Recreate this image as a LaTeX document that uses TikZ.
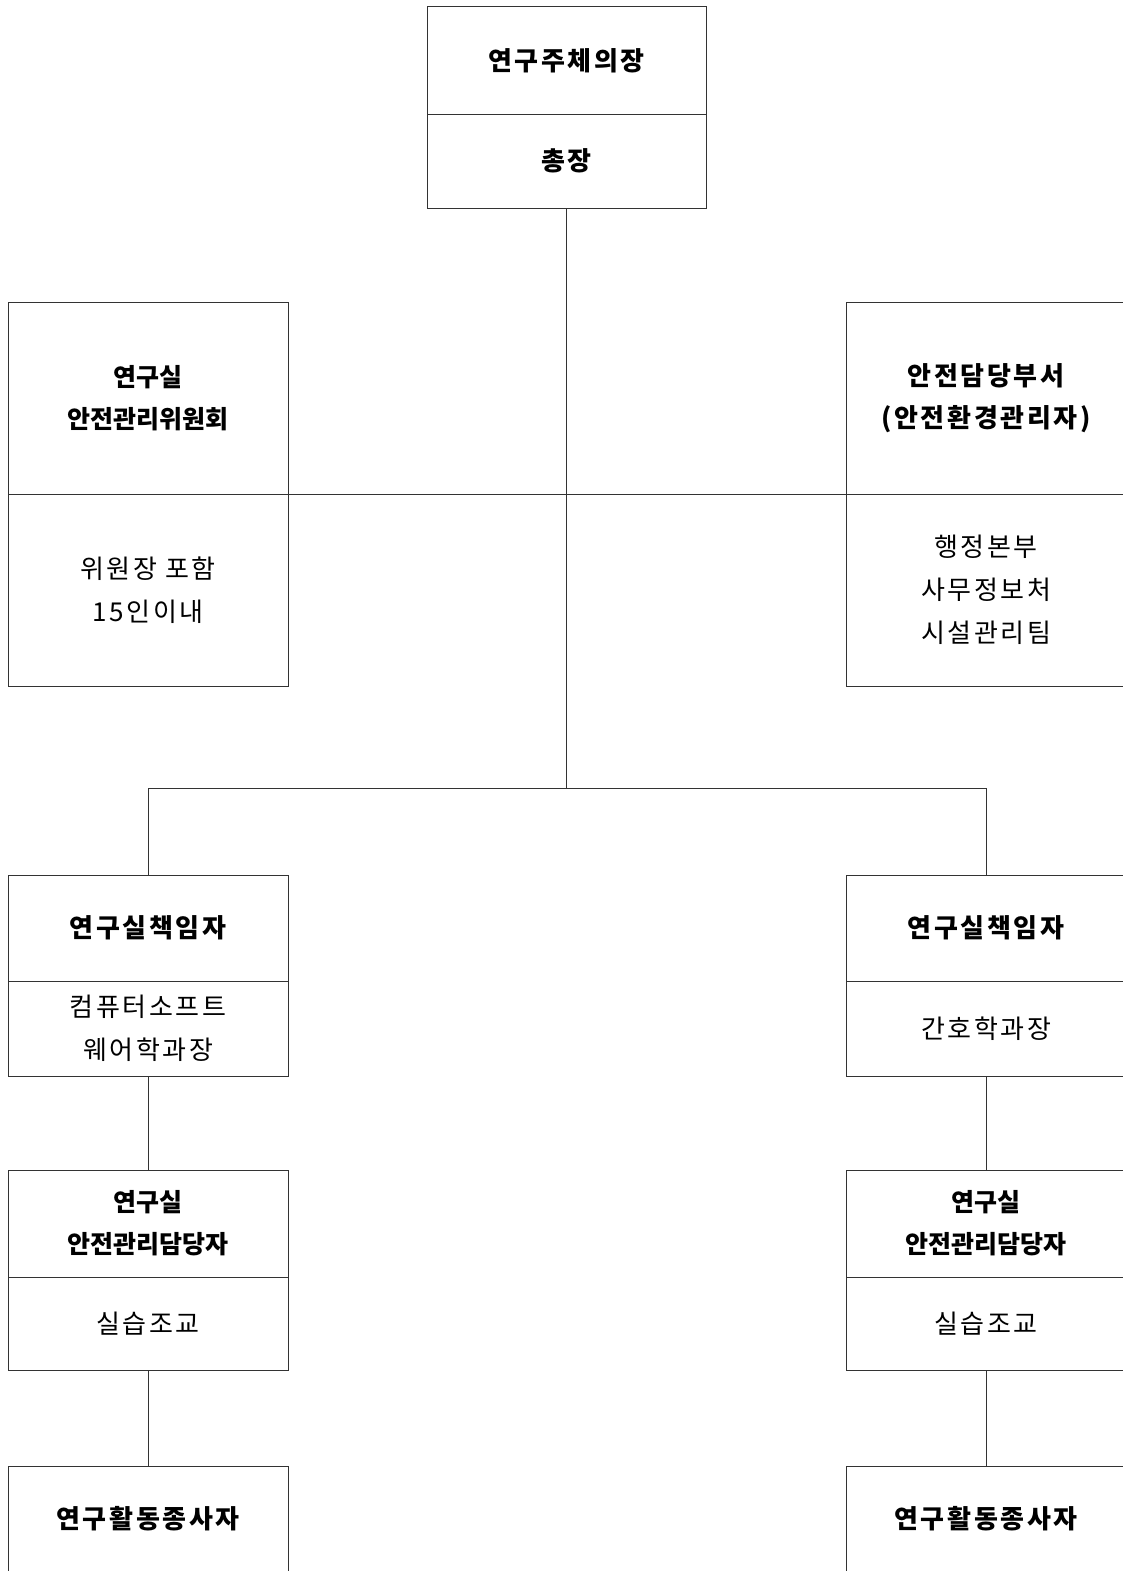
\documentclass[tikz,border=0pt]{standalone}
\usepackage{fontspec}
\setmainfont{Noto Sans CJK KR}[LetterSpace=10]
\usetikzlibrary{positioning}
\tikzset{
    box/.style={draw=black!80, line width=1pt, minimum width=280pt, minimum height=#1,
        inner sep=0pt, outer sep=0pt, align=center},
    head/.style={box=#1, font=\fontsize{26}{42}\selectfont\bfseries},
    tighthead/.style={box=#1, font=\fontsize{25}{42}\selectfont\bfseries\addfontfeatures{LetterSpace=0}},
    body/.style={box=#1, font=\fontsize{26}{43}\selectfont},
    link/.style={draw=black!80, line width=1pt}
}
\begin{document}
\begin{tikzpicture}[x=1pt, y=-1pt]
    \useasboundingbox (0,0) rectangle (1123,1571);
    % top
    \node[head=107pt, minimum width=279pt] (topH) at (566.5,60.5) {연구주체의장};
    \node[body=94pt, minimum width=279pt, below=0pt of topH, font=\fontsize{26}{42}\selectfont\bfseries] (topB) {총장};
    % committee and safety office
    \node[tighthead=192pt] (cmtH) at (148,398) {연구실\\안전관리위원회};
    \node[body=192pt, below=0pt of cmtH] (cmtB) {위원장 포함\\15인이내};
    \node[head=192pt] (ofcH) at (986,398) {안전담당부서\\(안전환경관리자)};
    \node[body=192pt, below=0pt of ofcH] (ofcB) {행정본부\\사무정보처\\시설관리팀};
    % two branches
    \foreach \side/\x/\dept in {L/148/{컴퓨터소프트\\웨어학과장}, R/986/{간호학과장}} {
        \node[head=106pt] (chief\side) at (\x,928) {연구실책임자};
        \node[body=95pt, below=0pt of chief\side] (dept\side) {\dept};
        \node[tighthead=107pt] (mgr\side) at (\x,1223.5) {연구실\\안전관리담당자};
        \node[body=93pt, below=0pt of mgr\side] (asst\side) {실습조교};
        \node[head=106pt] (staff\side) at (\x,1519) {연구활동종사자};
        \draw[link] (dept\side.south) -- (mgr\side.north);
        \draw[link] (asst\side.south) -- (staff\side.north);
    }
    \coordinate (hub) at (566.5,788);
    \draw[link] (topB.south) -- (hub);
    \draw[link] (cmtH.south east) -- (ofcH.south west);
    \draw[link] (hub) -| (chiefL.north);
    \draw[link] (hub) -| (chiefR.north);
\end{tikzpicture}
\end{document}
